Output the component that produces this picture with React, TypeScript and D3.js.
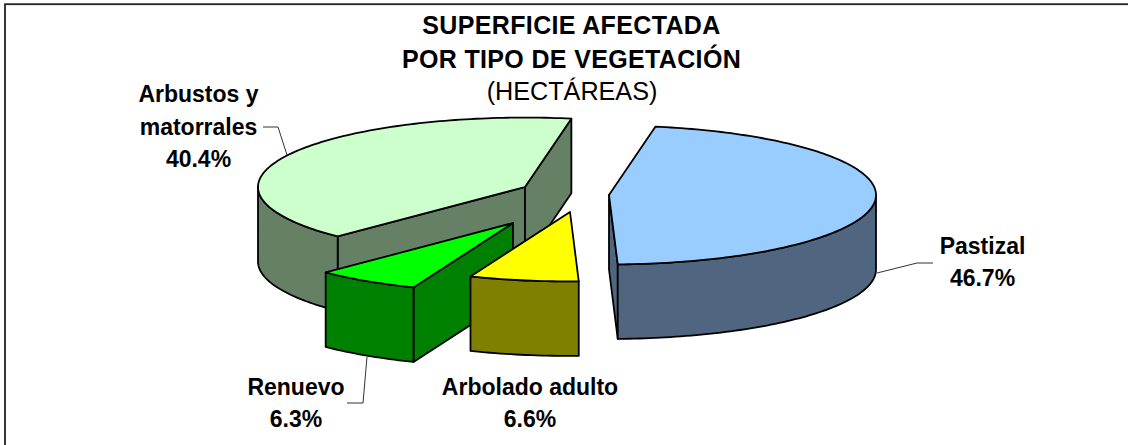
import React from "react";
import * as d3 from "d3";

const categories = ["Pastizal", "Arbolado adulto", "Renuevo", "Arbustos y matorrales"];
const shares = [46.7, 6.6, 6.3, 40.4];
const topColors = ["#99CCFF", "#FFFF00", "#00FF00", "#CCFFCC"];
const sideColors = ["#4F6580", "#808000", "#008000", "#668066"];
const drawOrder = [3, 2, 1, 0];

const W = 1128, H = 445;
const RX = 267, TILT = 0.26, DEPTH = 74.5;
const CENTER = [566, 195];
const OFFSETS = [[43, 0], [4, 17], [-53, 28], [-41, -8]];
const START = (10 * Math.PI) / 180;

const pieGen = d3.pie<number>().sort(null).startAngle(START).endAngle(START + 2 * Math.PI);
const arcs = pieGen(shares);
const radius = d3.scaleLinear().domain([0, 1]).range([0, RX]);
const lineGen = d3.line();

const project = (i: number, a: number, r: number, z = 0): [number, number] => [
  CENTER[0] + OFFSETS[i][0] + radius(r) * Math.sin(a),
  CENTER[1] + OFFSETS[i][1] - radius(r) * Math.cos(a) * TILT + z,
];
const sample = (a0: number, a1: number) => {
  const n = Math.max(2, Math.ceil(Math.abs(a1 - a0) / 0.02));
  return d3.range(n + 1).map((k) => a0 + ((a1 - a0) * k) / n);
};
const closed = (p: [number, number][]) => (lineGen(p) || "") + "Z";

function faces(i: number) {
  const { startAngle: a0, endAngle: a1 } = arcs[i];
  const out: string[] = [];
  const wall = (a: number) =>
    closed([project(i, 0, 0), project(i, a, 1), project(i, a, 1, DEPTH), project(i, 0, 0, DEPTH)]);
  if (Math.sin(a0) < 0) out.push(wall(a0));
  if (Math.sin(a1) > 0) out.push(wall(a1));
  const lo = Math.max(a0, Math.PI / 2), hi = Math.min(a1, (3 * Math.PI) / 2);
  if (hi > lo) {
    const s = sample(lo, hi);
    out.push(closed([...s.map((a) => project(i, a, 1)), ...s.slice().reverse().map((a) => project(i, a, 1, DEPTH))]));
  }
  return out;
}
const topFace = (i: number) =>
  closed([project(i, 0, 0), ...sample(arcs[i].startAngle, arcs[i].endAngle).map((a) => project(i, a, 1))]);

const titleLines = ["SUPERFICIE AFECTADA", "POR TIPO DE VEGETACIÓN"];
const subtitle = "(HECTÁREAS)";
const labelLines = [
  { i: 0, x: 982.5, ys: [253.5, 286], t: ["Pastizal", "46.7%"] },
  { i: 1, x: 530, ys: [395, 427], t: ["Arbolado adulto", "6.6%"] },
  { i: 2, x: 296, ys: [395, 427], t: ["Renuevo", "6.3%"] },
  { i: 3, x: 198.5, ys: [102, 135, 167], t: ["Arbustos y", "matorrales", "40.4%"] },
];
const leaders: [number, number][][] = [
  [[877, 273], [917, 263], [933, 263]],
  [[367, 357], [363, 403], [347, 403]],
  [[287, 155], [278, 127], [263, 127]],
];
const FONT = "'Liberation Sans', Arial, sans-serif";

export default function App() {
  return (
    <svg width={W} height={H} style={{ position: "absolute", left: 0, top: 0, display: "block", background: "#fff" }} fontFamily={FONT}>
      <rect x={5} y={4.2} width={W + 20} height={H + 20} fill="#fff" stroke="#222" strokeWidth={1.8} />
      {leaders.map((l, k) => (
        <path key={k} d={lineGen(l) || ""} fill="none" stroke="#333" strokeWidth={1} />
      ))}
      {drawOrder.map((i) => (
        <g key={categories[i]} stroke="#000" strokeWidth={1.8} strokeLinejoin="round">
          {faces(i).map((d, k) => (
            <path key={k} d={d} fill={sideColors[i]} />
          ))}
          <path d={topFace(i)} fill={topColors[i]} />
        </g>
      ))}
      <g textAnchor="middle" fontWeight="bold" fontSize={25} letterSpacing={0.35} fill="#000">
        <text x={571.5} y={33.5}>{titleLines[0]}</text>
        <text x={571.5} y={68}>{titleLines[1]}</text>
      </g>
      <text x={572} y={100} textAnchor="middle" fontSize={25.2} fill="#000">{subtitle}</text>
      <g textAnchor="middle" fontWeight="bold" fontSize={23} fill="#000">
        {labelLines.map((l) =>
          l.t.map((s, k) => (
            <text key={s} x={l.x} y={l.ys[k]}>{s}</text>
          ))
        )}
      </g>
    </svg>
  );
}
